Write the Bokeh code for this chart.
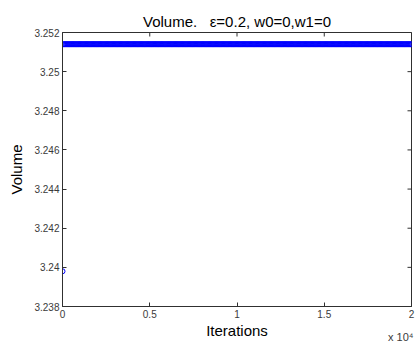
import math
from bokeh.plotting import figure
from bokeh.models import (Range1d, LinearAxis, FixedTicker, CustomJSTickFormatter,
                          Title, ColumnDataSource)
from bokeh.embed import file_html
from bokeh.resources import INLINE

# Recorded volume per iteration (sampled every 50 iterations)
iterations = list(range(0, 20001, 50))
volume = [3.2398] + [3.2514] * (len(iterations) - 1)

x_ticks = [0, 5000, 10000, 15000, 20000]
y_ticks = [3.238, 3.240, 3.242, 3.244, 3.246, 3.248, 3.250, 3.252]

X_MIN, X_MAX = 0, 20000
Y_MIN, Y_MAX = 3.238, 3.252

FONT = "Liberation Sans"
TICK_COLOR = "#3a3a3a"
AXIS_COLOR = "#303030"

p = figure(width=417, height=345, output_backend="svg", toolbar_location=None,
           x_range=Range1d(X_MIN, X_MAX), y_range=Range1d(Y_MIN, Y_MAX),
           min_border_left=62, min_border_right=6, min_border_top=32,
           min_border_bottom=39, x_axis_location=None, y_axis_location=None)

p.title.text = "Volume.\u00a0\u00a0\u00a0\u03b5=0.2, w0=0,w1=0"
p.title.text_font = FONT
p.title.text_font_size = "15px"
p.title.text_font_style = "normal"
p.title.text_color = "black"
p.title.align = "center"
p.title.standoff = 5
p.title.offset = 0

p.xgrid.visible = False
p.ygrid.visible = False
p.outline_line_color = AXIS_COLOR
p.outline_line_width = 1
p.background_fill_color = "white"
p.border_fill_color = "white"

xfmt = CustomJSTickFormatter(code="return parseFloat((tick / 10000).toFixed(2)).toString();")
yfmt = CustomJSTickFormatter(code="return parseFloat(tick.toFixed(3)).toString();")


def style_axis(ax):
    ax.axis_line_color = AXIS_COLOR
    ax.major_tick_line_color = AXIS_COLOR
    ax.major_tick_in = 4
    ax.major_tick_out = 0
    ax.minor_tick_line_color = None
    ax.major_label_text_font = FONT
    ax.major_label_text_font_size = "10px"
    ax.major_label_text_color = TICK_COLOR
    ax.axis_label_text_font = FONT
    ax.axis_label_text_font_size = "15px"
    ax.axis_label_text_font_style = "normal"
    ax.axis_label_text_color = "black"


xb = LinearAxis(ticker=FixedTicker(ticks=x_ticks), formatter=xfmt, axis_label="Iterations")
style_axis(xb)
xb.major_label_standoff = 3
xb.axis_label_standoff = 1
p.add_layout(xb, "below")

yl = LinearAxis(ticker=FixedTicker(ticks=y_ticks), formatter=yfmt, axis_label="Volume")
style_axis(yl)
yl.major_label_standoff = 3
yl.axis_label_standoff = 6
p.add_layout(yl, "left")

# exponent marker of the x axis, tucked under the last tick label
p.add_layout(Title(text="x 10\u2074", align="right", vertical_align="top",
                   text_font=FONT, text_font_size="11px", text_font_style="normal",
                   text_color=TICK_COLOR, standoff=-22, offset=-2), "below")

# inward ticks on the top and right edges of the box (half of each dash is clipped)
p.scatter(x=x_ticks, y=[Y_MAX] * len(x_ticks), marker="dash", size=8,
          angle=math.pi / 2, line_color=AXIS_COLOR, line_width=1)
p.scatter(x=[X_MAX] * len(y_ticks), y=y_ticks, marker="dash", size=8,
          line_color=AXIS_COLOR, line_width=1)

src = ColumnDataSource(data=dict(it=iterations, vol=volume))
p.scatter("it", "vol", source=src, marker="circle", size=5, fill_color=None,
          line_color="#0000ff", line_width=1)

open("out.html", "w").write(file_html(p, INLINE))
